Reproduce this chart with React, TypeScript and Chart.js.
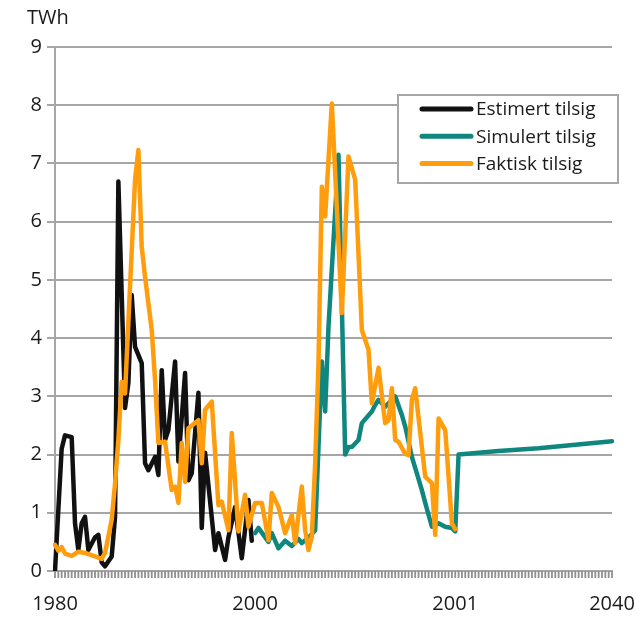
import { useEffect, useRef } from 'react';
import { Chart, registerables } from 'chart.js';

Chart.register(...registerables);

const N_POINTS = 168;
const X_TICK_LABELS = ['1980', '2000', '2001', '2040'];
const X_TICK_AT = [0, 60, 120, 167];
const Y_MIN = 0;
const Y_MAX = 9;
const UNIT = 'TWh';

const SERIES_NAMES = ['Estimert tilsig', 'Simulert tilsig', 'Faktisk tilsig'];
const SERIES_COLORS = ['#111111', '#0f877f', '#ff9d0d'];

const ESTIMERT_AT = [0, 2, 3, 5, 6, 7, 8, 9, 10, 12, 13, 14, 15, 17, 18, 19, 21, 22, 23, 24, 26, 27, 28, 30, 31, 32, 33, 34, 36, 37, 39, 40, 41, 43, 44, 45, 48, 49, 51, 52, 54, 56, 58, 59];
const ESTIMERT = [0.0, 2.1, 2.33, 2.3, 0.82, 0.36, 0.82, 0.93, 0.36, 0.58, 0.62, 0.15, 0.08, 0.25, 0.93, 6.69, 2.8, 3.23, 4.74, 3.85, 3.57, 1.85, 1.73, 1.96, 1.65, 3.45, 2.25, 2.42, 3.6, 1.88, 3.4, 1.56, 1.68, 3.06, 0.74, 2.03, 0.36, 0.65, 0.19, 0.58, 1.1, 0.22, 1.22, 0.52];

const SIMULERT_AT = [60, 61, 64, 65, 67, 69, 71, 73, 74, 76, 78, 79, 80, 81, 82, 85, 87, 88, 89, 91, 92, 95, 96, 97, 99, 102, 104, 105, 107, 110, 111, 113, 115, 117, 119, 120, 121, 133, 145, 156, 167];
const SIMULERT = [0.65, 0.74, 0.5, 0.65, 0.39, 0.52, 0.43, 0.55, 0.48, 0.57, 0.7, 2.13, 3.6, 2.74, 4.2, 7.15, 2.0, 2.13, 2.13, 2.25, 2.54, 2.74, 2.85, 2.94, 2.82, 3.0, 2.68, 2.48, 1.96, 1.39, 1.17, 0.76, 0.82, 0.76, 0.74, 0.68, 2.0, 2.06, 2.11, 2.17, 2.23];

const FAKTISK_AT = [0, 1, 2, 3, 5, 7, 9, 12, 14, 15, 17, 18, 19, 20, 21, 24, 25, 26, 27, 29, 30, 31, 33, 35, 36, 37, 38, 39, 40, 43, 44, 45, 47, 49, 50, 52, 53, 55, 57, 58, 60, 62, 64, 65, 67, 69, 71, 72, 74, 75, 76, 77, 78, 79, 80, 81, 83, 86, 88, 90, 92, 94, 95, 97, 99, 100, 101, 102, 103, 105, 106, 107, 108, 111, 113, 114, 115, 117, 119, 120];
const FAKTISK = [0.45, 0.35, 0.41, 0.3, 0.26, 0.33, 0.31, 0.25, 0.21, 0.31, 0.88, 1.5, 2.25, 3.25, 3.05, 6.72, 7.23, 5.57, 5.05, 4.14, 3.28, 2.2, 2.22, 1.39, 1.45, 1.17, 2.2, 1.53, 2.45, 2.59, 1.85, 2.77, 2.91, 1.13, 1.19, 0.7, 2.37, 0.68, 1.31, 0.76, 1.17, 1.17, 0.53, 1.34, 1.1, 0.65, 0.96, 0.48, 1.45, 0.7, 0.36, 0.59, 1.85, 3.57, 6.6, 6.09, 8.03, 4.43, 7.12, 6.72, 4.14, 3.8, 2.88, 3.49, 2.54, 2.59, 3.14, 2.25, 2.22, 2.01, 1.99, 2.94, 3.14, 1.62, 1.51, 0.62, 2.62, 2.42, 0.82, 0.72];

const FONT = "'Open Sans', 'Noto Sans', sans-serif";
const GRID = '#a6a6a6';
const TICK_MARK = '#8f8f8f';
const TEXT = '#1a1a1a';

function toSeries(at: number[], vals: number[]): (number | null)[] {
  const arr: (number | null)[] = new Array(N_POINTS).fill(null);
  at.forEach((idx, k) => {
    arr[idx] = vals[k];
  });
  return arr;
}

function buildLabels(): string[] {
  const arr: string[] = new Array(N_POINTS).fill('');
  X_TICK_AT.forEach((idx, k) => {
    arr[idx] = X_TICK_LABELS[k];
  });
  return arr;
}

const xTickMarks = {
  id: 'xTickMarks',
  afterDraw(chart: any) {
    const ctx: CanvasRenderingContext2D = chart.ctx;
    const area = chart.chartArea;
    const left = area.left;
    const right = area.right;
    const y0 = area.bottom;
    const step = (right - left) / (N_POINTS - 1);
    ctx.save();
    ctx.fillStyle = TICK_MARK;
    for (let i = 0; i < N_POINTS; i++) {
      const x = left + step * i;
      ctx.fillRect(x - 0.9, y0, 1.8, 7);
    }
    ctx.restore();
  },
};

const boxLegend = {
  id: 'boxLegend',
  afterDatasetsDraw(chart: any) {
    const { ctx, chartArea } = chart;
    const left = chartArea.left + 343;
    const top = chartArea.top + 48;
    const w = 220;
    const h = 88;
    ctx.save();
    ctx.fillStyle = '#ffffff';
    ctx.fillRect(left, top, w, h);
    ctx.strokeStyle = GRID;
    ctx.lineWidth = 2;
    ctx.strokeRect(left, top, w, h);
    chart.data.datasets.forEach((ds: any, i: number) => {
      const y = top + 14 + i * 27.3;
      ctx.strokeStyle = ds.borderColor;
      ctx.lineWidth = 5;
      ctx.lineCap = 'round';
      ctx.beginPath();
      ctx.moveTo(left + 24, y);
      ctx.lineTo(left + 73, y);
      ctx.stroke();
      ctx.fillStyle = TEXT;
      ctx.font = `19px ${FONT}`;
      ctx.textAlign = 'left';
      ctx.textBaseline = 'middle';
      ctx.fillText(ds.label, left + 78, y + 1);
    });
    ctx.restore();
  },
};

const unitLabel = {
  id: 'unitLabel',
  afterDraw(chart: any) {
    const { ctx, chartArea } = chart;
    ctx.save();
    ctx.fillStyle = TEXT;
    ctx.font = `20px ${FONT}`;
    ctx.textAlign = 'left';
    ctx.textBaseline = 'middle';
    ctx.fillText(UNIT, chartArea.left - 28, chartArea.top - 29);
    ctx.restore();
  },
};

export default function App() {
  const canvasRef = useRef<HTMLCanvasElement | null>(null);

  useEffect(() => {
    document.body.style.margin = '0';
    const canvas = canvasRef.current;
    if (!canvas) return;
    const labels = buildLabels();
    const seriesData = [
      toSeries(ESTIMERT_AT, ESTIMERT),
      toSeries(SIMULERT_AT, SIMULERT),
      toSeries(FAKTISK_AT, FAKTISK),
    ];
    const chart = new Chart(canvas, {
      type: 'line',
      data: {
        labels,
        datasets: SERIES_NAMES.map((name, i) => ({
          label: name,
          data: seriesData[i],
          borderColor: SERIES_COLORS[i],
          backgroundColor: SERIES_COLORS[i],
          borderWidth: 4.5,
          pointRadius: 0,
          pointHoverRadius: 0,
          tension: 0,
          spanGaps: true,
          borderJoinStyle: 'round',
          borderCapStyle: 'round',
          order: 3 - i,
        })),
      },
      options: {
        responsive: false,
        animation: false,
        devicePixelRatio: 1,
        layout: { padding: { left: 0, right: 24, top: 47, bottom: 0 } },
        plugins: {
          legend: { display: false },
          tooltip: { enabled: false },
          title: { display: false },
        },
        scales: {
          x: {
            type: 'category',
            offset: false,
            afterFit: (s: any) => {
              s.height = 57;
            },
            grid: {
              display: true,
              drawOnChartArea: false,
              drawTicks: true,
              tickLength: 21,
              tickColor: 'rgba(0,0,0,0)',
              color: 'rgba(0,0,0,0)',
              lineWidth: 1,
            },
            border: { display: true, color: GRID, width: 2 },
            ticks: {
              autoSkip: false,
              maxRotation: 0,
              minRotation: 0,
              padding: 0,
              color: TEXT,
              font: { family: FONT, size: 20 },
              callback: (_v: any, i: number) => labels[i],
            },
          },
          y: {
            min: Y_MIN,
            max: Y_MAX,
            afterFit: (s: any) => {
              s.width = 55;
            },
            grid: {
              color: GRID,
              lineWidth: 2,
              tickLength: 8,
              drawTicks: true,
            },
            border: { display: true, color: GRID, width: 2 },
            ticks: {
              stepSize: 1,
              padding: 5,
              color: TEXT,
              font: { family: FONT, size: 20 },
            },
          },
        },
      },
      plugins: [xTickMarks, boxLegend, unitLabel],
    } as any);
    return () => chart.destroy();
  }, []);

  return (
    <div style={{ width: 636, height: 628 }}>
      <canvas ref={canvasRef} width={636} height={628} style={{ display: 'block' }} />
    </div>
  );
}
